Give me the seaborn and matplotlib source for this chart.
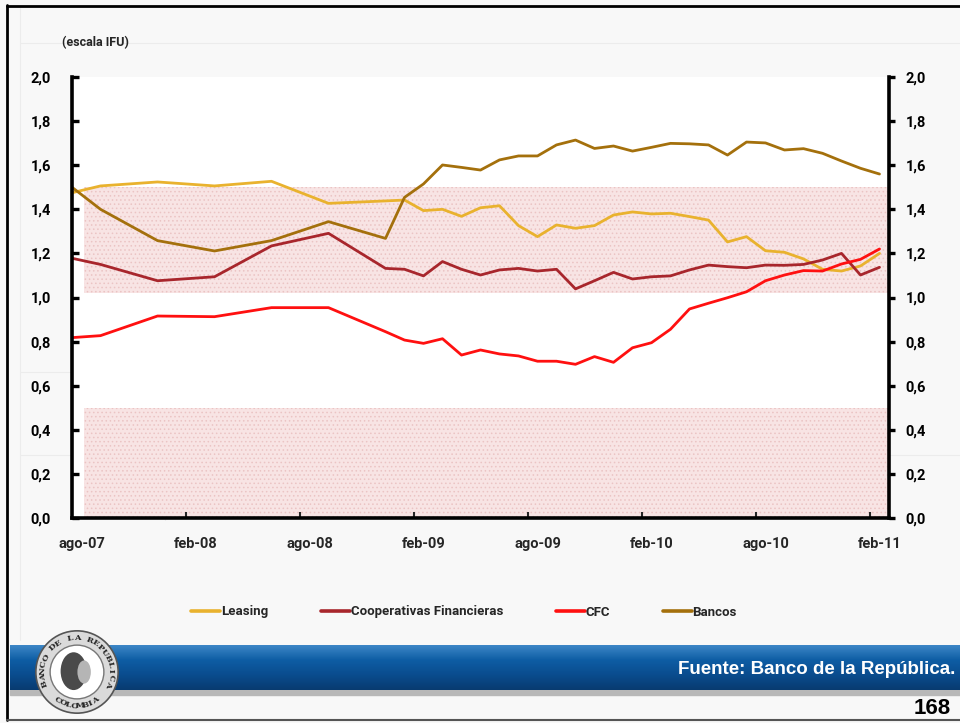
import numpy as np
import pandas as pd
import matplotlib
matplotlib.use('Agg')
import matplotlib.pyplot as plt
from matplotlib.patches import Circle, Ellipse, Rectangle
from matplotlib.ticker import FixedLocator, FuncFormatter
import seaborn as sns

# meses desde ago-07 (0 = ago-07); primeros datos trimestrales, luego mensuales
MESES = [-0.5, 1, 4, 7, 10, 13, 16,
         17, 18, 19, 20, 21, 22, 23, 24, 25, 26, 27, 28, 29, 30,
         31, 32, 33, 34, 35, 36, 37, 38, 39, 40, 41, 42]

LEASING = [1.475, 1.506, 1.524, 1.506, 1.527, 1.427, 1.438,
           1.442, 1.394, 1.400, 1.368, 1.407, 1.416, 1.326, 1.276, 1.329, 1.314,
           1.326, 1.374, 1.388, 1.379, 1.382, 1.367, 1.351, 1.252, 1.276, 1.212,
           1.205, 1.175, 1.128, 1.120, 1.143, 1.200]
COOPERATIVAS = [1.178, 1.150, 1.076, 1.094, 1.234, 1.291, 1.132,
                1.128, 1.098, 1.163, 1.128, 1.102, 1.125, 1.132, 1.120, 1.128, 1.039,
                1.076, 1.114, 1.084, 1.094, 1.098, 1.125, 1.147, 1.140, 1.135, 1.147,
                1.146, 1.150, 1.170, 1.200, 1.102, 1.137]
CFC = [0.818, 0.827, 0.916, 0.913, 0.954, 0.954, 0.845,
       0.807, 0.792, 0.813, 0.739, 0.762, 0.744, 0.735, 0.711, 0.711, 0.697,
       0.732, 0.706, 0.772, 0.795, 0.856, 0.948, 0.974, 0.999, 1.026, 1.076,
       1.102, 1.122, 1.120, 1.152, 1.173, 1.220]
BANCOS = [1.500, 1.400, 1.258, 1.211, 1.258, 1.344, 1.268,
          1.454, 1.515, 1.601, 1.590, 1.578, 1.624, 1.642, 1.642, 1.692, 1.714,
          1.676, 1.687, 1.664, 1.681, 1.699, 1.697, 1.692, 1.646, 1.705, 1.701,
          1.669, 1.675, 1.654, 1.619, 1.586, 1.560]

SERIES = ['Leasing', 'Cooperativas Financieras', 'CFC', 'Bancos']
COLORES = {'Leasing': '#E9B22E', 'Cooperativas Financieras': '#A8262C',
           'CFC': '#FF1010', 'Bancos': '#A4700C'}

TICK_POS = [0, 6, 12, 18, 24, 30, 36, 42]
TICK_LABELS = ['ago-07', 'feb-08', 'ago-08', 'feb-09', 'ago-09', 'feb-10', 'ago-10', 'feb-11']

# bandas sombreadas (escala IFU)
BANDA_ALTA = (1.02, 1.50)
BANDA_BAJA = (0.0, 0.50)

FONT = ['Roboto', 'DejaVu Sans']
NARROW = ['Liberation Sans Narrow', 'Liberation Sans', 'DejaVu Sans']

sns.set_style('white')
plt.rcParams['font.family'] = FONT
plt.rcParams['hatch.linewidth'] = 0.6

W, H = 960, 723
fig = plt.figure(figsize=(W / 100, H / 100), dpi=100)
fig.patch.set_facecolor('#F8F8F8')

# ---- fondo de la diapositiva ----
bg = fig.add_axes([0, 0, 1, 1], zorder=0)
bg.set_xlim(0, W)
bg.set_ylim(H, 0)
bg.axis('off')
for xs, ys in [((20, 20), (8, 640)), ((20, 960), (43, 43)), ((165, 165), (372, 520)),
               ((20, 165), (372, 372)), ((20, 960), (455, 455))]:
    bg.plot(xs, ys, color='#ECECEC', lw=0.8)
grad = np.linspace(0, 1, 64).reshape(-1, 1)
cmap_banner = matplotlib.colors.LinearSegmentedColormap.from_list(
    'banner', ['#3C86C6', '#0E5DA4', '#0A4C8E', '#083B70'])
bg.imshow(grad, cmap=cmap_banner, aspect='auto', extent=[10, W, 690, 645], zorder=1)
bg.add_patch(Rectangle((10, 690), W - 10, 5, color='#B8B8B8', zorder=0.9))
bg.plot([7, 7], [5, 720], color='black', lw=2, zorder=3)
bg.plot([7, W], [5.5, 5.5], color='black', lw=2, zorder=3)
bg.plot([7, W], [719.5, 719.5], color='#555555', lw=1.5, zorder=3)
bg.text(955, 669, 'Fuente: Banco de la República.', color='white', fontsize=13.5,
        fontweight='bold', family=NARROW, ha='right', va='center', zorder=4)
bg.text(951, 709, '168', color='black', fontsize=16, fontweight='bold',
        family=NARROW, ha='right', va='center', zorder=4)
bg.text(62, 43, '(escala IFU)', fontsize=9, fontweight='bold', ha='left', va='center')

# ---- logo ----
lg = fig.add_axes([35 / W, 1 - 714 / H, 84 / W, 84 / H], zorder=5)
lg.set_xlim(-1, 1)
lg.set_ylim(-1, 1)
lg.set_aspect('equal')
lg.axis('off')
lg.add_patch(Circle((0, 0), 0.98, facecolor='#DADADA', edgecolor='#555555', lw=1.2))
lg.add_patch(Circle((0, 0), 0.64, facecolor='white', edgecolor='#777777', lw=1))
lg.add_patch(Ellipse((-0.08, 0.02), 0.62, 0.9, facecolor='#4A4A4A', edgecolor='none'))
lg.add_patch(Ellipse((0.17, 0.0), 0.32, 0.55, facecolor='#B5B5B5', edgecolor='none'))
top = 'BANCO DE LA REPUBLICA'
for i, ch in enumerate(top):
    th = np.deg2rad(200 - i * 220 / (len(top) - 1))
    lg.text(0.81 * np.cos(th), 0.81 * np.sin(th), ch, fontsize=6, family='DejaVu Serif',
            fontweight='bold', rotation=np.rad2deg(th) - 90, ha='center', va='center')
bot = 'COLOMBIA'
for i, ch in enumerate(bot):
    th = np.deg2rad(236 + i * 68 / (len(bot) - 1))
    lg.text(0.81 * np.cos(th), 0.81 * np.sin(th), ch, fontsize=6, family='DejaVu Serif',
            fontweight='bold', rotation=np.rad2deg(th) + 90, ha='center', va='center')

# ---- grafico ----
df = pd.DataFrame({
    'mes': MESES * 4,
    'valor': LEASING + COOPERATIVAS + CFC + BANCOS,
    'serie': [s for s in SERIES for _ in MESES],
})

ax = fig.add_axes([72 / W, 1 - 518 / H, (889 - 72) / W, (518 - 77) / H], zorder=2)
ax.set_facecolor('white')
xmin, xmax = -0.5, 42.5
band_start = (84 - 72) / (889 - 72)
for lo, hi in (BANDA_ALTA, BANDA_BAJA):
    ax.axhspan(lo, hi, xmin=band_start, xmax=1, facecolor='#F8E4E4',
               edgecolor='#EBC4C4', hatch='....', lw=0, zorder=0)

sns.lineplot(data=df, x='mes', y='valor', hue='serie', hue_order=SERIES,
             palette=COLORES, linewidth=2.0, sort=False, estimator=None, ax=ax)

ax.set_xlim(xmin, xmax)
ax.set_ylim(0, 2.0)
ax.set_xlabel('')
ax.set_ylabel('')

coma = FuncFormatter(lambda v, p: f'{v:.1f}'.replace('.', ','))
yt = np.arange(0, 2.01, 0.2)
ax.set_yticks(yt)
ax.yaxis.set_major_formatter(coma)
ax.set_xticks(TICK_POS)
ax.set_xticklabels(TICK_LABELS)
ax.xaxis.set_minor_locator(FixedLocator([p - 0.5 for p in TICK_POS[1:]]))

for side in ('top', 'right'):
    ax.spines[side].set_visible(False)
for side in ('left', 'bottom'):
    ax.spines[side].set_linewidth(2.6)
    ax.spines[side].set_color('black')

ax.tick_params(axis='y', direction='in', length=5, width=2.4, pad=15,
               labelsize=10.5, colors='black', left=True)
ax.tick_params(axis='x', which='major', length=0, pad=14, labelsize=10.5)
ax.tick_params(axis='x', which='minor', direction='in', length=4, width=1.5,
               bottom=True)
for lab in ax.get_xticklabels() + ax.get_yticklabels():
    lab.set_fontweight('bold')

ax2 = ax.twinx()
ax2.set_ylim(0, 2.0)
ax2.set_yticks(yt)
ax2.yaxis.set_major_formatter(coma)
for side in ('top', 'left', 'bottom'):
    ax2.spines[side].set_visible(False)
ax2.spines['right'].set_linewidth(2.6)
ax2.spines['right'].set_color('black')
ax2.tick_params(axis='y', direction='out', length=4, width=2.4, pad=8,
                labelsize=10.5, colors='black')
for lab in ax2.get_yticklabels():
    lab.set_fontweight('bold')

sns.move_legend(ax, 'center', bbox_to_anchor=((464 - 72) / (889 - 72), (518 - 612) / (518 - 77)),
                ncol=4, frameon=False, title=None, fontsize=9.5, handlelength=2.2,
                handletextpad=0.05, columnspacing=4.0)
leg = ax.get_legend()
for t in leg.get_texts():
    t.set_fontweight('bold')
for h in leg.legend_handles:
    h.set_linewidth(2.6)

fig.savefig('out.png', dpi=100, facecolor=fig.get_facecolor())
